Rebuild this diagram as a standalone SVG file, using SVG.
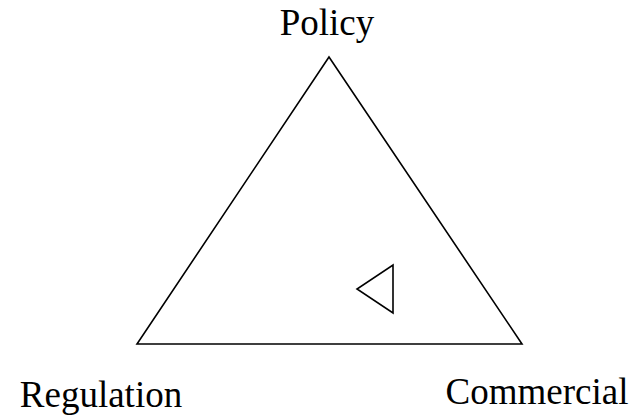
<svg xmlns="http://www.w3.org/2000/svg" width="637" height="418" viewBox="0 0 637 418">
<style>
.lbl{font-family:"Liberation Serif","Times New Roman",serif;font-size:37px;fill:#000}
.shape{fill:none;stroke:#000;stroke-width:1.6;stroke-linejoin:miter}
</style>
<rect width="637" height="418" fill="#fff"/>
<g id="connectors">
<polygon class="shape" points="329,57 522,344 137,344"/>
<polygon class="shape" points="393,265 393,313 357,289"/>
</g>
<g id="policy"><text class="lbl" x="327" y="35" text-anchor="middle">Policy</text></g>
<g id="regulation"><text class="lbl" x="101" y="407" text-anchor="middle">Regulation</text></g>
<g id="commercial"><text class="lbl" x="537" y="404" text-anchor="middle">Commercial</text></g>
</svg>
